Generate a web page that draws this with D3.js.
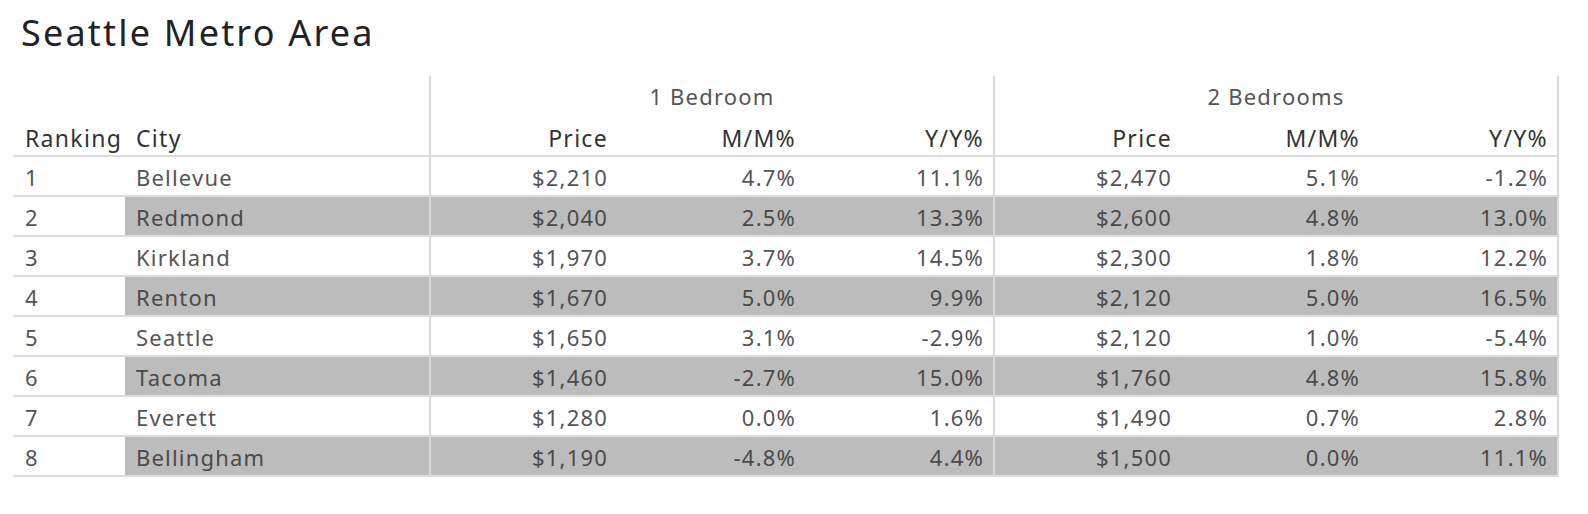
<!DOCTYPE html>
<html>
<head>
<meta charset="utf-8">
<script src="https://cdn.jsdelivr.net/npm/d3@7"></script>
<style>
  body { margin: 0; background: #fff; }
  text { font-family: "Noto Sans", "Open Sans", sans-serif; }
</style>
</head>
<body>
<svg id="drawing_region"></svg>
<script>
// table data
const rankings = [1, 2, 3, 4, 5, 6, 7, 8];
const cities = ["Bellevue", "Redmond", "Kirkland", "Renton", "Seattle", "Tacoma", "Everett", "Bellingham"];
const groups = ["1 Bedroom", "2 Bedrooms"];
const metrics = ["Price", "M/M%", "Y/Y%"];

const bed1Price = [2210, 2040, 1970, 1670, 1650, 1460, 1280, 1190];
const bed1MM = [4.7, 2.5, 3.7, 5.0, 3.1, -2.7, 0.0, -4.8];
const bed1YY = [11.1, 13.3, 14.5, 9.9, -2.9, 15.0, 1.6, 4.4];
const bed2Price = [2470, 2600, 2300, 2120, 2120, 1760, 1490, 1500];
const bed2MM = [5.1, 4.8, 1.8, 5.0, 1.0, 4.8, 0.7, 0.0];
const bed2YY = [-1.2, 13.0, 12.2, 16.5, -5.4, 15.8, 2.8, 11.1];

const values = {
    "1 Bedroom": { "Price": bed1Price, "M/M%": bed1MM, "Y/Y%": bed1YY },
    "2 Bedrooms": { "Price": bed2Price, "M/M%": bed2MM, "Y/Y%": bed2YY }
};

const config = {
    width: 1588,
    height: 514,
    left: 13,
    cityLeft: 125,
    groupLeft: 430,
    right: 1558,
    top: 76,
    headerBottom: 156,
    bottom: 476,
    pad: 10
};

const locale = d3.formatLocale({
    decimal: ".", thousands: ",", grouping: [3], currency: ["$", ""], minus: "-"
});
const fmtPrice = locale.format("$,");
const fmtPct = v => locale.format(".1f")(v) + "%";

const svg = d3.select('#drawing_region')
    .attr('width', config.width)
    .attr('height', config.height);

const y = d3.scaleBand()
    .domain(rankings)
    .range([config.headerBottom, config.bottom]);

const xGroup = d3.scaleBand()
    .domain(groups)
    .range([config.groupLeft, config.right]);

const xMetric = d3.scaleBand()
    .domain(metrics)
    .range([0, xGroup.bandwidth()]);

// title
svg.append('text')
    .attr('x', 21)
    .attr('y', 46)
    .attr('fill', '#222')
    .style('font-size', '36px')
    .style('letter-spacing', '2.2px')
    .text('Seattle Metro Area');

// striped rows
svg.append('g')
    .selectAll('rect')
    .data(rankings.filter((d, i) => i % 2 === 1))
    .join('rect')
    .attr('x', config.cityLeft)
    .attr('y', d => y(d))
    .attr('width', config.right - config.cityLeft)
    .attr('height', y.bandwidth())
    .attr('fill', '#bcbcbc');

// horizontal row lines
svg.append('g')
    .selectAll('line')
    .data([config.headerBottom].concat(rankings.map(d => y(d) + y.bandwidth())))
    .join('line')
    .attr('x1', config.left)
    .attr('x2', config.right)
    .attr('y1', d => d)
    .attr('y2', d => d)
    .attr('stroke', '#dcdcdc')
    .attr('stroke-width', 2);

// vertical dividers
svg.append('g')
    .selectAll('line')
    .data(groups.map(g => xGroup(g)).concat([config.right]))
    .join('line')
    .attr('x1', d => d)
    .attr('x2', d => d)
    .attr('y1', config.top)
    .attr('y2', config.bottom + 1)
    .attr('stroke', '#dadada')
    .attr('stroke-width', 2);

const textStyle = sel => sel
    .style('font-size', '22px')
    .style('letter-spacing', '1.2px');

const headStyle = sel => sel
    .style('font-size', '23px')
    .style('letter-spacing', '1.3px');

// group headers
svg.append('g')
    .selectAll('text')
    .data(groups)
    .join('text')
    .attr('x', d => xGroup(d) + xGroup.bandwidth() / 2)
    .attr('y', 105)
    .attr('text-anchor', 'middle')
    .attr('fill', '#555')
    .call(textStyle)
    .text(d => d);

// column headers
const headerY = 147;
svg.append('text').attr('x', 25).attr('y', headerY).attr('fill', '#333').call(headStyle).text('Ranking');
svg.append('text').attr('x', 136).attr('y', headerY).attr('fill', '#333').call(headStyle).text('City');

groups.forEach(g => {
    svg.append('g')
        .selectAll('text')
        .data(metrics)
        .join('text')
        .attr('x', m => xGroup(g) + xMetric(m) + xMetric.bandwidth() - config.pad)
        .attr('y', headerY)
        .attr('text-anchor', 'end')
        .attr('fill', '#333')
        .call(headStyle)
        .text(m => m);
});

// body cells
const baseline = d => y(d) + y.bandwidth() / 2 + 10;

svg.append('g')
    .selectAll('text')
    .data(rankings)
    .join('text')
    .attr('x', 25)
    .attr('y', baseline)
    .attr('fill', '#555')
    .call(textStyle)
    .text(d => d);

svg.append('g')
    .selectAll('text')
    .data(rankings)
    .join('text')
    .attr('x', 136)
    .attr('y', baseline)
    .attr('fill', (d, i) => i % 2 ? '#4a4a4a' : '#555')
    .call(textStyle)
    .text((d, i) => cities[i]);

groups.forEach(g => {
    metrics.forEach(m => {
        const fmt = m === "Price" ? fmtPrice : fmtPct;
        svg.append('g')
            .selectAll('text')
            .data(rankings)
            .join('text')
            .attr('x', xGroup(g) + xMetric(m) + xMetric.bandwidth() - config.pad)
            .attr('y', baseline)
            .attr('text-anchor', 'end')
            .attr('fill', (d, i) => i % 2 ? '#4a4a4a' : '#555')
            .call(textStyle)
            .text((d, i) => fmt(values[g][m][i]));
    });
});
</script>
</body>
</html>
